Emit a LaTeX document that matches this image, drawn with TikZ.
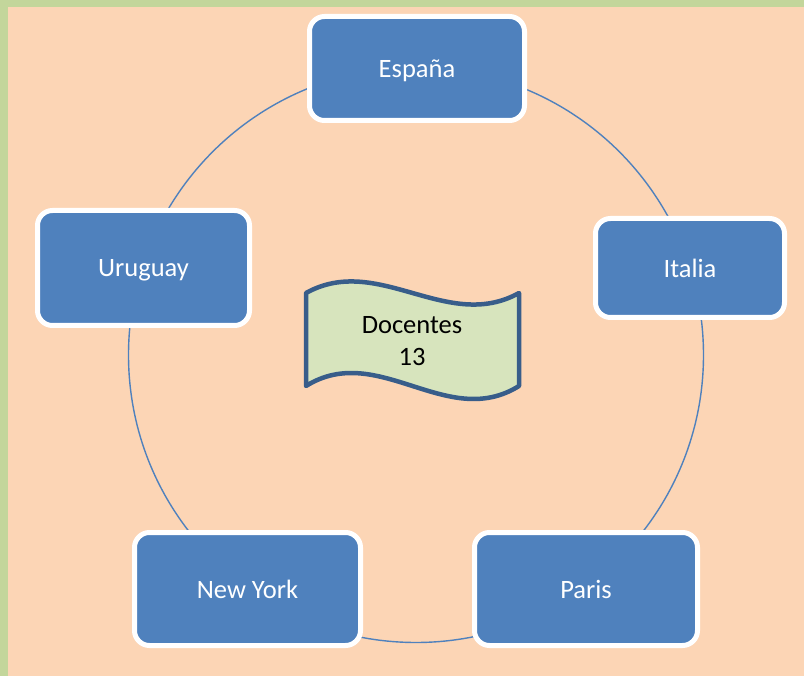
\documentclass[tikz,border=0pt]{standalone}
\usepackage{fontspec}
\setmainfont{Carlito}
\definecolor{peach}{HTML}{FCD5B5}
\definecolor{frame}{HTML}{C3D69B}
\definecolor{boxblue}{HTML}{4F81BD}
\definecolor{wavefill}{HTML}{D7E4BD}
\definecolor{wavedraw}{HTML}{385D8A}
\begin{document}
\begin{tikzpicture}[x=1pt,y=-1pt,
  citybox/.style={draw=white, line width=5pt, fill=boxblue, rounded corners=15pt,
    text=white, font=\fontsize{26.5}{31}\selectfont, inner sep=0pt, text depth=0pt},
  ring/.style={draw=boxblue, line width=1.4pt}]
\useasboundingbox (0,0) rectangle (804,676);
\fill[frame] (0,0) rectangle (804,676);
\fill[peach] (8,7) rectangle (804,676);
\coordinate (c) at (416,355);
\draw[ring] (c) circle[radius=287.5];
\node[citybox, minimum width=215pt, minimum height=104pt] (esp) at (417,68.5) {España};
\node[citybox, minimum width=189pt, minimum height=99pt] (ita) at (690,268) {Italia};
\node[citybox, minimum width=223pt, minimum height=113pt] (par) at (586,589) {Paris};
\node[citybox, minimum width=226pt, minimum height=113pt] (ny) at (247.5,589) {New York};
\node[citybox, minimum width=212pt, minimum height=115pt] (uru) at (143.5,268) {Uruguay};
\draw[draw=wavedraw, fill=wavefill, line width=4.5pt, line join=round]
  (306,293) .. controls (378,253) and (447,333) .. (519,293)
  -- (519,386) .. controls (447,431) and (378,341) .. (306,386) -- cycle;
\node[align=center, font=\fontsize{26.5}{32}\selectfont, inner sep=0pt] (doc) at (412,341) {Docentes\\13};
\end{tikzpicture}
\end{document}
